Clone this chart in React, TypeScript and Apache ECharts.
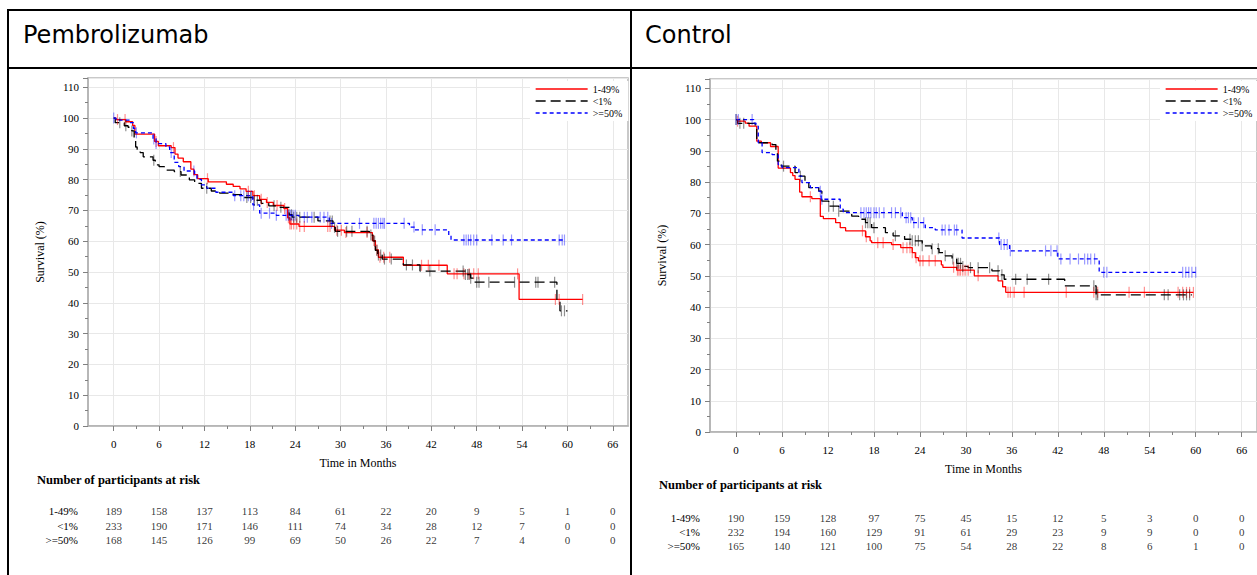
import React, { useEffect, useRef } from "react";
import * as echarts from "echarts";

const SERIF = "Liberation Serif, Times New Roman, serif";
const TICKS = [0, 6, 12, 18, 24, 30, 36, 42, 48, 54, 60, 66];
const MINOR_TICKS = [3, 9, 15, 21, 27, 33, 39, 45, 51, 57, 63];
const GROUPS = ["1-49%", "<1%", ">=50%"];
const PANEL_TITLES = ["Pembrolizumab", "Control"];

// ---------- Pembrolizumab ----------
const P_149: number[][] = [
  [0, 100], [0.3, 99.5], [1.6, 98.8], [2.5, 97.6], [2.8, 94.8], [5.4, 92.4], [5.9, 91.0], [7.6, 90.4],
  [8.1, 88.3], [8.5, 87.0], [9.2, 85.8], [10.2, 83.4], [10.6, 81.6], [11.1, 80.3], [12.5, 79.3],
  [14.9, 78.5], [15.8, 77.8], [16.7, 77.0], [17.5, 76.2], [18.4, 74.8], [19.3, 73.6], [20.2, 72.6],
  [21.1, 71.6], [22.5, 70.6], [23.0, 67.6], [23.3, 65.6], [24.5, 64.8], [29.2, 63.6], [30.5, 62.8],
  [34.2, 60.2], [34.6, 57.2], [35.0, 54.8], [38.3, 52.2], [44.1, 49.4], [53.6, 41.1], [62.0, 41.1],
];
const P_LT1: number[][] = [
  [0, 100], [0.2, 98.5], [1.4, 97.5], [1.9, 97.0], [2.4, 95.8], [2.7, 93.3], [2.9, 90.6], [3.1, 89.8],
  [3.5, 88.8], [3.9, 87.4], [5.2, 86.3], [5.5, 84.8], [6.0, 84.2], [6.7, 83.1], [8.0, 82.6], [8.9, 81.5],
  [10.0, 79.9], [10.7, 78.8], [11.6, 77.2], [12.9, 76.3], [14.0, 75.6], [15.8, 75.1], [17.0, 74.2],
  [18.4, 73.3], [19.5, 72.3], [20.5, 71.5], [22.0, 71.0], [23.2, 68.6], [23.6, 67.8], [27.0, 66.6],
  [29.0, 64.5], [29.3, 63.2], [33.8, 62.0], [34.3, 60.0], [34.6, 57.0], [34.9, 55.5], [35.5, 54.2],
  [38.3, 52.3], [40.5, 50.3], [46.5, 49.2], [47.2, 48.0], [47.6, 46.7], [58.6, 40.5], [59.0, 37.4],
  [60.0, 37.4],
];
const P_GE50: number[][] = [
  [0, 100], [0.3, 99.3], [2.1, 98.5], [2.6, 96.6], [2.9, 95.2], [5.2, 93.2], [5.6, 91.7], [6.9, 90.6],
  [7.4, 88.8], [8.0, 85.6], [8.6, 84.2], [9.3, 82.8], [10.7, 81.5], [11.0, 80.1], [11.6, 78.3],
  [12.3, 77.2], [13.5, 75.9], [15.8, 74.8], [18.4, 71.8], [19.3, 69.1], [21.5, 68.4], [24.5, 67.8],
  [28.5, 65.8], [39.1, 64.6], [39.8, 63.7], [44.3, 62.0], [44.6, 60.4], [59.7, 60.4],
];
const P_149_CENS = [0.5, 1.5, 5.6, 7.9, 12.4, 17.8, 18.6, 19.5, 20.3, 21.6, 22.6, 23.1, 23.3, 23.5, 23.8,
  24.2, 24.6, 25.2, 28.3, 28.6, 29.5, 30.1, 30.7, 33.5, 34.4, 34.8, 35.2, 35.7, 36.5, 40.7, 41.6, 43.0,
  45.0, 45.4, 46.3, 47.0, 47.6, 48.2, 53.4, 58.4, 58.9, 62.0];
const P_LT1_CENS = [0.8, 1.6, 2.4, 5.3, 8.8, 12.3, 17.6, 18.1, 18.6, 19.0, 21.2, 22.1, 23.2, 23.5, 23.8,
  24.2, 24.6, 26.5, 28.6, 28.9, 29.2, 29.6, 30.8, 31.5, 33.5, 34.0, 34.5, 34.8, 35.0, 35.3, 35.8, 36.7,
  38.7, 39.5, 41.8, 46.2, 46.5, 46.8, 47.0, 47.2, 48.0, 48.3, 49.6, 53.0, 55.8, 56.1, 58.3, 59.2, 59.6];
const P_GE50_CENS = [0.0, 3.0, 5.3, 5.6, 7.6, 10.6, 16.0, 16.8, 17.2, 17.8, 18.2, 18.5, 19.5, 20.6, 21.5,
  22.8, 23.1, 23.4, 23.7, 24.0, 25.2, 25.6, 26.2, 27.3, 27.8, 28.3, 28.8, 32.5, 34.4, 34.7, 35.0, 35.3,
  35.6, 35.8, 38.4, 39.7, 40.8, 42.5, 46.3, 46.6, 46.9, 47.2, 47.6, 48.0, 50.0, 51.5, 52.6, 58.9, 59.3, 59.6];
const P_RISK_149 = [189, 158, 137, 113, 84, 61, 22, 20, 9, 5, 1, 0];
const P_RISK_LT1 = [233, 190, 171, 146, 111, 74, 34, 28, 12, 7, 0, 0];
const P_RISK_GE50 = [168, 145, 126, 99, 69, 50, 26, 22, 7, 4, 0, 0];

// ---------- Control ----------
const C_149: number[][] = [
  [0, 100], [0.2, 99.5], [1.2, 98.9], [1.7, 97.9], [2.7, 93.1], [3.3, 92.6], [4.5, 91.4], [5.5, 84.5],
  [7.1, 83.0], [7.4, 82.1], [7.7, 80.9], [8.3, 76.8], [8.6, 75.3], [9.9, 74.7], [11.0, 69.0], [11.4, 68.3],
  [13.0, 67.0], [13.6, 65.4], [14.3, 64.4], [16.9, 62.5], [17.5, 61.2], [17.7, 60.6], [20.3, 60.0],
  [21.5, 59.0], [23.0, 57.4], [23.4, 55.8], [23.8, 54.8], [26.8, 53.5], [27.0, 52.7], [28.8, 51.8],
  [31.1, 50.0], [34.2, 48.4], [34.8, 46.5], [35.2, 44.7], [59.7, 44.7],
];
const C_LT1: number[][] = [
  [0, 100], [0.2, 98.8], [2.5, 97.9], [2.7, 93.6], [3.0, 92.6], [4.7, 92.0], [5.2, 89.5], [5.4, 86.7],
  [5.9, 85.1], [7.7, 83.0], [8.4, 81.9], [9.0, 79.8], [9.5, 78.2], [10.8, 77.1], [11.2, 73.9], [12.1, 72.3],
  [13.4, 70.7], [15.1, 69.1], [16.0, 68.1], [16.9, 67.0], [17.7, 65.4], [19.5, 63.8], [20.5, 62.8],
  [22.0, 61.7], [23.0, 61.2], [24.3, 59.6], [25.5, 58.7], [26.5, 57.4], [27.3, 56.4], [28.2, 55.4],
  [28.8, 54.0], [29.5, 53.0], [30.3, 52.6], [33.4, 51.6], [34.4, 50.3], [35.0, 48.9], [42.9, 46.8],
  [47.0, 43.9], [59.5, 43.9],
];
const C_GE50: number[][] = [
  [0, 100], [2.3, 98.9], [2.6, 97.9], [2.9, 92.6], [3.4, 89.4], [4.7, 88.8], [5.5, 85.6], [6.0, 84.6],
  [8.2, 81.9], [8.6, 79.8], [9.7, 78.2], [10.8, 77.1], [11.1, 74.5], [13.6, 71.3], [14.0, 70.2],
  [21.7, 68.6], [23.0, 67.0], [24.7, 65.4], [26.0, 64.7], [29.5, 62.1], [34.4, 60.0], [35.7, 58.0],
  [42.0, 55.4], [47.4, 51.1], [60.0, 51.1],
];
const C_149_CENS = [0.2, 9.7, 16.5, 17.0, 18.5, 19.2, 20.5, 21.8, 22.3, 22.7, 23.0, 23.5, 24.0, 24.4, 25.2,
  26.0, 28.4, 28.9, 29.1, 29.3, 29.6, 29.9, 30.3, 31.6, 35.5, 35.8, 36.3, 37.6, 43.1, 46.7, 47.2, 51.3,
  53.3, 57.7, 58.3, 58.8, 59.2, 59.7];
const C_LT1_CENS = [0.0, 0.5, 1.0, 6.2, 8.4, 12.1, 12.7, 13.4, 16.9, 17.2, 17.5, 18.0, 20.8, 22.7, 23.0,
  23.4, 23.8, 24.3, 25.6, 26.4, 27.3, 28.3, 28.8, 29.0, 29.3, 29.6, 30.6, 31.6, 33.1, 34.2, 34.7, 36.5,
  38.0, 40.8, 46.7, 47.0, 47.2, 55.9, 56.4, 57.9, 58.4, 58.8, 59.2];
const C_GE50_CENS = [0.0, 0.3, 2.1, 11.0, 11.2, 16.3, 16.7, 17.0, 17.3, 17.6, 18.0, 18.3, 18.7, 19.3, 20.3,
  20.8, 21.5, 22.2, 22.5, 22.8, 23.2, 23.8, 24.5, 26.9, 27.3, 27.8, 28.5, 28.8, 34.3, 34.6, 35.0, 35.4,
  35.8, 40.4, 41.1, 41.9, 42.4, 43.6, 44.7, 45.5, 45.9, 46.3, 46.8, 48.0, 48.4, 58.3, 58.7, 59.1, 59.5, 60.0];
const C_RISK_149 = [190, 159, 128, 97, 75, 45, 15, 12, 5, 3, 0, 0];
const C_RISK_LT1 = [232, 194, 160, 129, 91, 61, 29, 23, 9, 9, 0, 0];
const C_RISK_GE50 = [165, 140, 121, 100, 75, 54, 28, 22, 8, 6, 1, 0];

const LINE_COLORS = ["#ff0000", "#000000", "#0000ff"];
const CENS_COLORS = ["rgba(255,0,0,0.55)", "rgba(0,0,0,0.55)", "rgba(0,0,255,0.5)"];
const DASHES: any[] = ["solid", [10, 5], [4, 3]];

function survAt(curve: number[][], t: number) {
  let s = curve[0][1];
  for (const p of curve) {
    if (p[0] <= t) s = p[1];
    else break;
  }
  return s;
}

const PANELS = [
  {
    curves: [P_149, P_LT1, P_GE50],
    cens: [P_149_CENS, P_LT1_CENS, P_GE50_CENS],
    risk: [P_RISK_149, P_RISK_LT1, P_RISK_GE50],
    grid: { left: 88, top: 78, width: 540, height: 348 },
    riskGrid: { left: 88, top: 504, width: 540, height: 43.5 },
    riskTitle: { x: 37, y: 480 },
    legendLeft: 530,
    titleX: 23,
  },
  {
    curves: [C_149, C_LT1, C_GE50],
    cens: [C_149_CENS, C_LT1_CENS, C_GE50_CENS],
    risk: [C_RISK_149, C_RISK_LT1, C_RISK_GE50],
    grid: { left: 710, top: 79, width: 550, height: 353 },
    riskGrid: { left: 710, top: 511, width: 550, height: 42 },
    riskTitle: { x: 659, y: 485 },
    legendLeft: 1160,
    titleX: 645,
  },
];

function buildOption() {
  const grid: any[] = [];
  const xAxis: any[] = [];
  const yAxis: any[] = [];
  const series: any[] = [];
  const legend: any[] = [];
  const graphic: any[] = [];
  const axisGray = "#b0b0b0";
  const tickGray = "#808080";
  const X_MIN = -3.4;
  const X_MAX = 68;
  const lab = { fontFamily: SERIF, fontSize: 11, color: "#000" };

  PANELS.forEach((pn, p) => {
    grid.push({ ...pn.grid, show: true, borderColor: "#b8b8b8", borderWidth: 1.5, containLabel: false });
    grid.push({ ...pn.riskGrid, show: false, containLabel: false });
    const gMain = 2 * p;
    const gRisk = 2 * p + 1;
    const xMainIdx = xAxis.length;
    xAxis.push({
      gridIndex: gMain, type: "value", min: X_MIN, max: X_MAX, position: "bottom",
      axisLine: { show: true, onZero: false, lineStyle: { color: axisGray, width: 1.5 } },
      axisTick: { show: true, customValues: TICKS, length: 5, lineStyle: { color: tickGray } },
      axisLabel: { show: true, customValues: TICKS, margin: 12, ...lab },
      splitLine: { show: true, lineStyle: { color: "#e8e8e8", width: 1 } },
      name: "Time in Months", nameLocation: "middle", nameGap: 31,
      nameTextStyle: { fontFamily: SERIF, fontSize: 12, color: "#000" },
    });
    xAxis.push({
      gridIndex: gMain, type: "value", min: X_MIN, max: X_MAX, position: "bottom",
      axisLine: { show: false, onZero: false },
      axisTick: { show: true, customValues: MINOR_TICKS, length: 3, lineStyle: { color: tickGray } },
      axisLabel: { show: false },
      splitLine: { show: false },
    });
    const xRiskIdx = xAxis.length;
    xAxis.push({
      gridIndex: gRisk, type: "value", min: X_MIN, max: X_MAX, show: false,
    });
    const yMainIdx = yAxis.length;
    yAxis.push({
      gridIndex: gMain, type: "value", min: 0, max: 113, interval: 10,
      axisLine: { show: true, onZero: false, lineStyle: { color: axisGray, width: 1.5 } },
      axisTick: { show: true, length: 5, lineStyle: { color: tickGray } },
      minorTick: { show: true, splitNumber: 2, length: 3, lineStyle: { color: tickGray } },
      axisLabel: { margin: 9, showMaxLabel: false, ...lab },
      splitLine: { show: true, lineStyle: { color: "#e8e8e8", width: 1 } },
      name: "Survival (%)", nameLocation: "middle", nameGap: 42,
      nameTextStyle: { fontFamily: SERIF, fontSize: 12, color: "#000" },
    });
    const yRiskIdx = yAxis.length;
    yAxis.push({
      gridIndex: gRisk, type: "category", data: GROUPS, inverse: true,
      axisLine: { show: false }, axisTick: { show: false }, splitLine: { show: false },
      axisLabel: { margin: 10, interval: 0, hideOverlap: false, ...lab },
    });

    GROUPS.forEach((g, i) => {
      const curve = pn.curves[i];
      series.push({
        name: g, type: "line", step: "end", xAxisIndex: xMainIdx, yAxisIndex: yMainIdx,
        data: curve, symbol: "none", showSymbol: false, silent: true, z: 3,
        lineStyle: { color: LINE_COLORS[i], width: 1.3, type: DASHES[i] },
        itemStyle: { color: LINE_COLORS[i] },
      });
      series.push({
        name: g + " censored", type: "scatter", xAxisIndex: xMainIdx, yAxisIndex: yMainIdx,
        data: pn.cens[i].map((t) => [t, survAt(curve, t)]),
        symbol: "rect", symbolSize: [1.2, 11], silent: true, z: 4,
        itemStyle: { color: CENS_COLORS[i] },
      });
      series.push({
        name: g + " at risk", type: "scatter", xAxisIndex: xRiskIdx, yAxisIndex: yRiskIdx,
        data: pn.risk[i].map((n, k) => [TICKS[k], g, n]),
        symbolSize: 1, silent: true, itemStyle: { color: "transparent" },
        label: {
          show: true, position: "inside", formatter: (prm: any) => String(prm.value[2]),
          ...lab,
        },
        labelLayout: { hideOverlap: false },
      });
    });

    legend.push({
      show: true, orient: "vertical", left: pn.legendLeft, top: 81, data: GROUPS,
      itemWidth: 52, itemHeight: 10, itemGap: 2, padding: [3, 6, 3, 5],
      backgroundColor: "#ffffff", selectedMode: false,
      itemStyle: { opacity: 0 },
      lineStyle: { width: 1.3 },
      textStyle: { fontFamily: SERIF, fontSize: 10, color: "#000" },
    });

    graphic.push({
      type: "text", x: pn.titleX, y: 35,
      style: { text: PANEL_TITLES[p], fontFamily: "DejaVu Sans, Verdana, sans-serif", fontSize: 24, fill: "#000", align: "left", verticalAlign: "middle" },
    });
    graphic.push({
      type: "text", x: pn.riskTitle.x, y: pn.riskTitle.y,
      style: { text: "Number of participants at risk", fontFamily: SERIF, fontSize: 12.5, fontWeight: "bold", fill: "#000", align: "left", verticalAlign: "middle" },
    });
  });

  const border = { stroke: "#000", lineWidth: 2 };
  graphic.push({ type: "line", shape: { x1: 8, y1: 10, x2: 1257, y2: 10 }, style: border });
  graphic.push({ type: "line", shape: { x1: 8, y1: 68, x2: 1257, y2: 68 }, style: border });
  graphic.push({ type: "line", shape: { x1: 8, y1: 9, x2: 8, y2: 575 }, style: border });
  graphic.push({ type: "line", shape: { x1: 631, y1: 9, x2: 631, y2: 575 }, style: border });

  return {
    animation: false,
    backgroundColor: "#ffffff",
    textStyle: { fontFamily: SERIF },
    grid, xAxis, yAxis, series, legend, graphic,
  };
}

export default function App() {
  const ref = useRef<HTMLDivElement>(null);
  useEffect(() => {
    if (!ref.current) return;
    const chart = echarts.init(ref.current, undefined, { renderer: "svg" });
    chart.setOption(buildOption() as any);
    return () => chart.dispose();
  }, []);
  return (
    <div
      ref={ref}
      style={{ position: "fixed", left: 0, top: 0, width: 1257, height: 575, background: "#fff" }}
    />
  );
}
